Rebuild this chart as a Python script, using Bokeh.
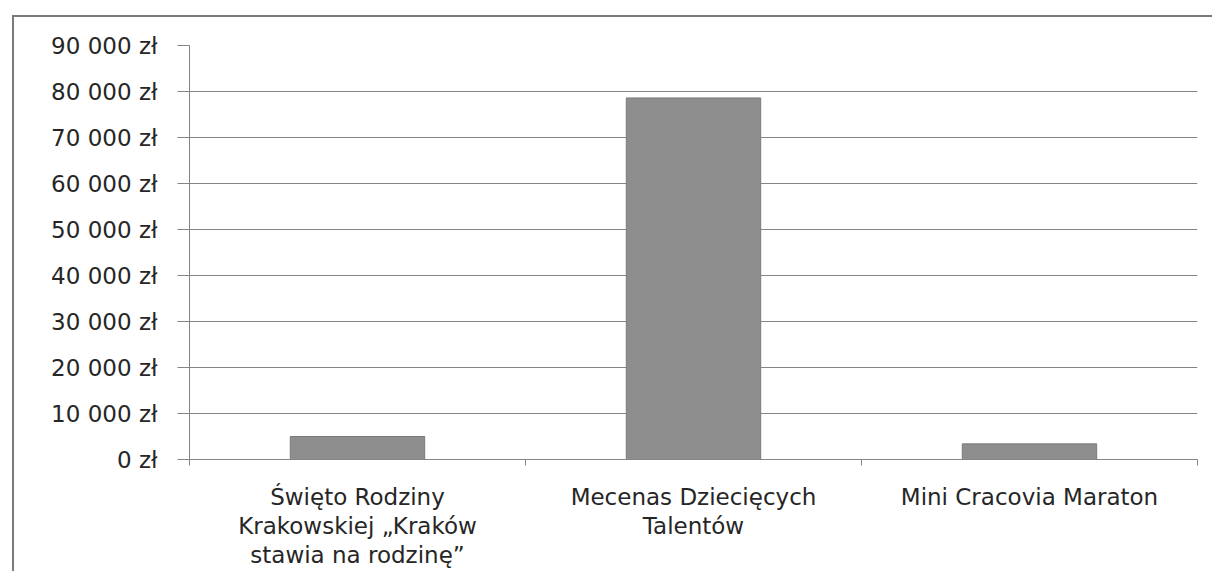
from bokeh.plotting import figure
from bokeh.models import FixedTicker, Range1d, ColumnDataSource
from bokeh.embed import file_html
from bokeh.resources import INLINE

categories = ["Święto Rodziny Krakowskiej „Kraków stawia na rodzinę”",
              "Mecenas Dziecięcych Talentów",
              "Mini Cracovia Maraton"]
category_labels = ["Święto Rodziny\nKrakowskiej „Kraków\nstawia na rodzinę”",
                   "Mecenas Dziecięcych\nTalentów",
                   "Mini Cracovia Maraton"]
values = [5000, 78600, 3400]
y_ticks = [0, 10000, 20000, 30000, 40000, 50000, 60000, 70000, 80000, 90000]
y_tick_labels = ["0 zł", "10 000 zł", "20 000 zł", "30 000 zł", "40 000 zł",
                 "50 000 zł", "60 000 zł", "70 000 zł", "80 000 zł", "90 000 zł"]

n = len(categories)
centers = [i + 0.5 for i in range(n)]
bounds = [float(i) for i in range(n + 1)]

src = ColumnDataSource(dict(x=centers, top=values, name=categories))

FONT = "DejaVu Sans"
TEXT = "#262626"
GRID = "#858585"

p = figure(frame_width=1008, frame_height=414,
           x_range=Range1d(0, n), y_range=Range1d(0, 90000),
           output_backend="svg", toolbar_location=None,
           min_border_left=175, min_border_top=28, min_border_right=15,
           min_border_bottom=112, background_fill_color="white",
           border_fill_color="white")
p.styles = {"margin-left": "12px", "margin-top": "15px",
            "border-left": "2px solid #7a7a7a", "border-top": "2px solid #7a7a7a"}
p.outline_line_color = None

p.vbar(x="x", top="top", width=0.4, bottom=0, source=src,
       fill_color="#8e8e8e", line_color="#7a7a7a", line_width=1)

# y axis
p.yaxis.ticker = FixedTicker(ticks=y_ticks)
p.yaxis.major_label_overrides = {t: l for t, l in zip(y_ticks, y_tick_labels)}
p.yaxis.major_tick_out = 12
p.yaxis.major_tick_in = 0
p.yaxis.minor_tick_out = 0
p.yaxis.minor_tick_in = 0
p.yaxis.major_tick_line_color = GRID
p.yaxis.axis_line_color = GRID
p.yaxis.major_label_standoff = 20
p.yaxis.major_label_text_font = FONT
p.yaxis.major_label_text_font_size = "23px"
p.yaxis.major_label_text_color = TEXT

# x axis
p.xaxis.ticker = FixedTicker(ticks=centers, minor_ticks=bounds)
p.xaxis.major_label_overrides = {c: l for c, l in zip(centers, category_labels)}
p.xaxis.major_tick_out = 0
p.xaxis.major_tick_in = 0
p.xaxis.minor_tick_out = 6
p.xaxis.minor_tick_in = 0
p.xaxis.minor_tick_line_color = GRID
p.xaxis.axis_line_color = GRID
p.xaxis.major_label_standoff = 18
p.xaxis.major_label_text_font = FONT
p.xaxis.major_label_text_font_size = "23px"
p.xaxis.major_label_text_color = TEXT
p.xaxis.major_label_text_line_height = 1.12

p.xgrid.grid_line_color = None
p.ygrid.grid_line_color = GRID
p.ygrid.grid_line_width = 1

open("out.html", "w").write(file_html(p, INLINE))
